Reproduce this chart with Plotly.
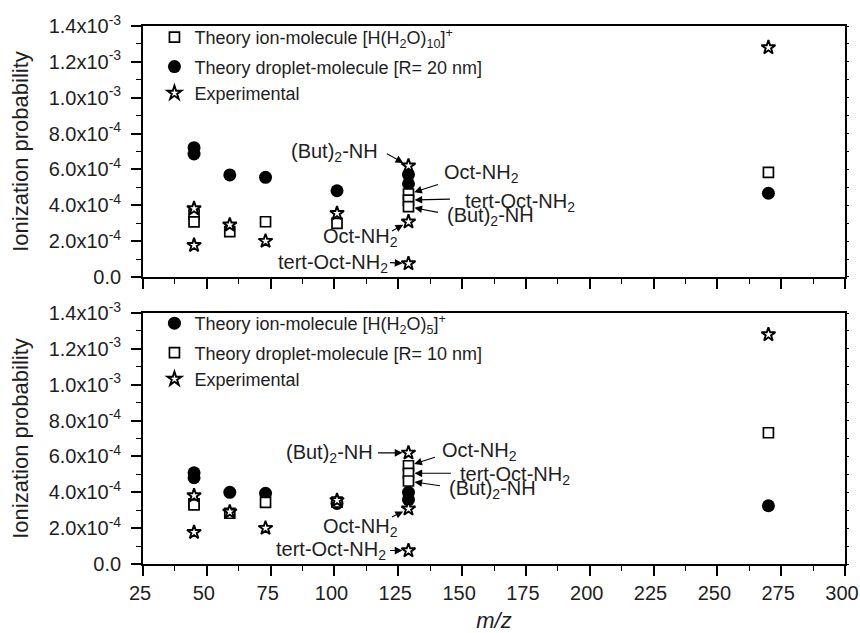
import plotly.graph_objects as go

# ---------------- data ----------------
# top panel
top_ion_x = [45, 45, 59, 73, 101, 129, 129, 129, 270]
top_ion_y = [3.50e-4, 3.07e-4, 2.53e-4, 3.08e-4, 2.99e-4, 4.63e-4, 4.29e-4, 3.92e-4, 5.84e-4]
top_drop_x = [45, 45, 59, 73, 101, 129, 129, 270]
top_drop_y = [7.21e-4, 6.86e-4, 5.69e-4, 5.56e-4, 4.81e-4, 5.71e-4, 5.20e-4, 4.67e-4]

# bottom panel
bot_ion_x = [45, 45, 59, 73, 101, 129, 129, 270]
bot_ion_y = [5.09e-4, 4.81e-4, 4.00e-4, 3.94e-4, 3.38e-4, 4.00e-4, 3.59e-4, 3.25e-4]
bot_drop_x = [45, 45, 59, 73, 101, 129, 129, 129, 270]
bot_drop_y = [3.35e-4, 3.30e-4, 2.83e-4, 3.44e-4, 3.45e-4, 5.48e-4, 5.06e-4, 4.63e-4, 7.32e-4]

# experimental (both panels)
exp_x = [45, 45, 59, 73, 101, 129, 129, 129, 270]
exp_y = [3.82e-4, 1.77e-4, 2.91e-4, 2.00e-4, 3.55e-4, 6.20e-4, 3.08e-4, 0.75e-4, 1.28e-3]

y_tickvals = [0, 2e-4, 4e-4, 6e-4, 8e-4, 1.0e-3, 1.2e-3, 1.4e-3]
y_ticktext = ["0.0", "2.0x10<sup>-4</sup>", "4.0x10<sup>-4</sup>", "6.0x10<sup>-4</sup>",
              "8.0x10<sup>-4</sup>", "1.0x10<sup>-3</sup>", "1.2x10<sup>-3</sup>", "1.4x10<sup>-3</sup>"]
x_tickvals = [25, 50, 75, 100, 125, 150, 175, 200, 225, 250, 275, 300]

FONT = "Liberation Sans, Arial, sans-serif"
TXT = "#1e1e1e"

sq = dict(symbol="square", size=10, color="white", line=dict(color="black", width=1.7))
ci = dict(symbol="circle", size=13, color="black", line=dict(color="black", width=0))
st = dict(symbol="star", size=10.5, color="white", line=dict(color="black", width=1.9))

fig = go.Figure()

# top panel traces
fig.add_trace(go.Scatter(x=top_drop_x, y=top_drop_y, mode="markers", marker=ci,
                         name="Theory droplet-molecule [R= 20 nm]", legend="legend",
                         legendgroup="tb", legendrank=2, xaxis="x", yaxis="y"))
fig.add_trace(go.Scatter(x=top_ion_x, y=top_ion_y, mode="markers", marker=sq,
                         name="Theory ion-molecule [H(H<sub>2</sub>O)<sub>10</sub>]<sup>+</sup>",
                         legend="legend", legendgroup="ta", legendrank=1, xaxis="x", yaxis="y"))
fig.add_trace(go.Scatter(x=exp_x, y=exp_y, mode="markers", marker=st,
                         name="Experimental", legend="legend", legendgroup="tb", legendrank=3,
                         xaxis="x", yaxis="y"))

# bottom panel traces
fig.add_trace(go.Scatter(x=bot_ion_x, y=bot_ion_y, mode="markers", marker=ci,
                         name="Theory ion-molecule [H(H<sub>2</sub>O)<sub>5</sub>]<sup>+</sup>",
                         legend="legend2", legendgroup="ba", legendrank=1, xaxis="x2", yaxis="y2"))
fig.add_trace(go.Scatter(x=bot_drop_x, y=bot_drop_y, mode="markers", marker=sq,
                         name="Theory droplet-molecule [R= 10 nm]", legend="legend2",
                         legendgroup="bb", legendrank=2, xaxis="x2", yaxis="y2"))
fig.add_trace(go.Scatter(x=exp_x, y=exp_y, mode="markers", marker=st,
                         name="Experimental", legend="legend2", legendgroup="bb", legendrank=3,
                         xaxis="x2", yaxis="y2"))

# empty helper traces so the right-hand tick axes are rendered
fig.add_trace(go.Scatter(x=[None], y=[None], xaxis="x", yaxis="y3", showlegend=False,
                         hoverinfo="skip", mode="markers"))
fig.add_trace(go.Scatter(x=[None], y=[None], xaxis="x2", yaxis="y4", showlegend=False,
                         hoverinfo="skip", mode="markers"))

TOP_DOM = [0.5335, 1.0]
BOT_DOM = [0.0, 0.4665]
XR = [25, 300]
YR = [0, 1.4e-3]

def xax(domain_anchor, labels):
    return dict(range=XR, domain=[0, 1], anchor=domain_anchor, showline=True, automargin=False,
                linecolor="black", linewidth=1.7, mirror=True, showgrid=False, zeroline=False,
                ticks="outside", ticklen=10, tickwidth=1.5, tickcolor="black",
                tickvals=x_tickvals, showticklabels=labels, ticklabeloverflow="allow",
                ticklabelshift=-3,
                tickfont=dict(family=FONT, size=20, color=TXT),
                minor=dict(ticks="outside", ticklen=5, tickwidth=1.3, tickcolor="black",
                           tick0=25, dtick=12.5))

def yax(dom, anchor):
    return dict(range=YR, domain=dom, anchor=anchor, showline=True, linecolor="black",
                automargin=False,
                linewidth=1.7, mirror=True, showgrid=False, zeroline=False,
                ticks="outside", ticklen=10, tickwidth=1.5, tickcolor="black",
                tickvals=y_tickvals, ticktext=y_ticktext, ticklabelstandoff=6,
                tickfont=dict(family=FONT, size=20, color=TXT),
                title=dict(text="Ionization probability", standoff=14,
                           font=dict(family=FONT, size=22, color=TXT)),
                minor=dict(ticks="outside", ticklen=5, tickwidth=1.3, tickcolor="black",
                           tick0=0, dtick=1e-4))

def ymirror(over, anchor):
    return dict(range=YR, overlaying=over, side="right", anchor=anchor, showline=False,
                showgrid=False, zeroline=False, automargin=False,
                ticks="outside", ticklen=3, tickwidth=1.2, tickcolor="black",
                tick0=0, dtick=1e-4, showticklabels=False)

xa2 = xax("y2", True)
xa2["title"] = dict(text="<i>m/z</i>", standoff=20, font=dict(family=FONT, size=22, color=TXT))

fig.update_layout(
    template="none",
    width=860, height=633,
    margin=dict(l=143, r=15, t=26, b=69, autoexpand=False),
    paper_bgcolor="white", plot_bgcolor="white",
    font=dict(family=FONT, color=TXT),
    xaxis=xax("y", False),
    yaxis=yax(TOP_DOM, "x"),
    xaxis2=xa2,
    yaxis2=yax(BOT_DOM, "x2"),
    yaxis3=ymirror("y", "x"),
    yaxis4=ymirror("y2", "x2"),
    legend=dict(x=0.0163, y=1.013, xanchor="left", yanchor="top", bgcolor="rgba(0,0,0,0)",
                font=dict(family=FONT, size=18, color=TXT), tracegroupgap=3,
                itemsizing="trace", borderwidth=0),
    legend2=dict(x=0.0163, y=0.4815, xanchor="left", yanchor="top", bgcolor="rgba(0,0,0,0)",
                 font=dict(family=FONT, size=18, color=TXT), tracegroupgap=3,
                 itemsizing="trace", borderwidth=0),
    showlegend=True,
    hovermode="closest",
)

# ---------------- annotations ----------------
AFONT = dict(family=FONT, size=20, color=TXT)

def label(text, x, y, xanchor, xref, yref):
    fig.add_annotation(text=text, x=x, y=y, xref=xref, yref=yref, xanchor=xanchor,
                       yanchor="middle", showarrow=False, font=AFONT)

def arrow(x, y, ax, ay, xref, yref, standoff=6):
    fig.add_annotation(text="", x=x, y=y, xref=xref, yref=yref, ax=ax, ay=ay,
                       axref="pixel", ayref="pixel", showarrow=True, arrowhead=2,
                       arrowsize=1.4, arrowwidth=1.1, arrowcolor="black", standoff=standoff)

# (label text, text x, text y, anchor, target x, target y, ax, ay)
top_labels = [
    ("(But)<sub>2</sub>-NH", 117.8, 6.92e-4, "right", exp_x[5], exp_y[5], -23, -13),
    ("Oct-NH<sub>2</sub>", 142.1, 5.80e-4, "left", top_ion_x[5], top_ion_y[5], 31, -10),
    ("tert-Oct-NH<sub>2</sub>", 150.4, 4.18e-4, "left", top_ion_x[6], top_ion_y[6], 43, -1),
    ("(But)<sub>2</sub>-NH", 143.3, 3.35e-4, "left", top_ion_x[7], top_ion_y[7], 31, 6),
    ("Oct-NH<sub>2</sub>", 125.7, 2.18e-4, "right", exp_x[6], exp_y[6], -18, 10),
    ("tert-Oct-NH<sub>2</sub>", 121.8, 0.73e-4, "right", exp_x[7], exp_y[7], -20, -1),
]
for t, tx, ty, anc, px, py, ax, ay in top_labels:
    label(t, tx, ty, anc, "x", "y")
    arrow(px, py, ax, ay, "x", "y")

bot_labels = [
    ("(But)<sub>2</sub>-NH", 115.9, 6.14e-4, "right", exp_x[5], exp_y[5], -32, 0),
    ("Oct-NH<sub>2</sub>", 141.3, 6.30e-4, "left", bot_drop_x[5], bot_drop_y[5], 28, -9),
    ("tert-Oct-NH<sub>2</sub>", 148.4, 4.96e-4, "left", bot_drop_x[6], bot_drop_y[6], 44, 0),
    ("(But)<sub>2</sub>-NH", 144.1, 4.13e-4, "left", bot_drop_x[7], bot_drop_y[7], 33, 5),
    ("Oct-NH<sub>2</sub>", 125.7, 2.06e-4, "right", exp_x[6], exp_y[6], -18, 9),
    ("tert-Oct-NH<sub>2</sub>", 121.0, 0.73e-4, "right", exp_x[7], exp_y[7], -20, 0),
]
for t, tx, ty, anc, px, py, ax, ay in bot_labels:
    label(t, tx, ty, anc, "x2", "y2")
    arrow(px, py, ax, ay, "x2", "y2")

fig.write_html("out.html", config={"displayModeBar": False},
               post_script="document.body.style.margin='0px';")
